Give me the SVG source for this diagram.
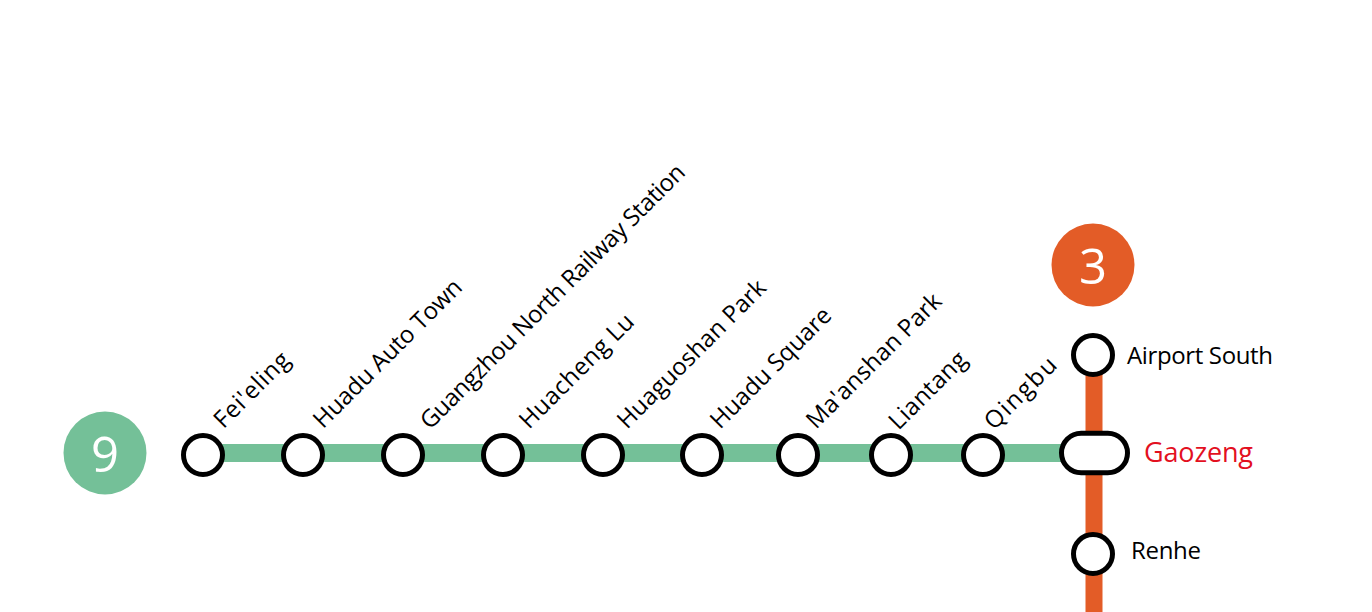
<svg xmlns="http://www.w3.org/2000/svg" width="1372" height="612" viewBox="0 0 1372 612">
<style>
.st{fill:#fff;stroke:#000;stroke-width:5}
.lbl{font-family:"Open Sans","Noto Sans","Liberation Sans",sans-serif;font-size:24px;fill:#000}
.hl{font-family:"Open Sans","Noto Sans","Liberation Sans",sans-serif;font-size:24px;fill:#000}
.badge{font-family:"Open Sans","Noto Sans","Liberation Sans",sans-serif;font-size:49px;fill:#fff;text-anchor:middle}
</style>
<rect width="1372" height="612" fill="#fff"/>
<g id="connectors">
<line x1="203" y1="453" x2="1075" y2="453" stroke="#74c098" stroke-width="18"/>
<line x1="1094" y1="355" x2="1094" y2="612" stroke="#e35c27" stroke-width="17"/>
</g>
<g id="badge9"><circle cx="105" cy="453" r="41.5" fill="#74c098"/><text class="badge" x="105" y="472">9</text></g>
<g id="badge3"><circle cx="1093" cy="265" r="41.5" fill="#e35c27"/><text class="badge" x="1093" y="284">3</text></g>
<g id="feieling"><circle class="st" cx="203" cy="455" r="19.5"/><text class="lbl" x="223.5" y="429.5" transform="rotate(-45 223.5 429.5)" textLength="96">Fei'eling</text></g>
<g id="huadu-auto-town"><circle class="st" cx="303" cy="455" r="19.5"/><text class="lbl" x="323" y="429.5" transform="rotate(-45 323 429.5)" textLength="199">Huadu Auto Town</text></g>
<g id="guangzhou-north"><circle class="st" cx="403" cy="455" r="19.5"/><text class="lbl" x="430" y="430.5" transform="rotate(-45 430 430.5)" textLength="363">Guangzhou North Railway Station</text></g>
<g id="huacheng-lu"><circle class="st" cx="503" cy="455" r="19.5"/><text class="lbl" x="529" y="430" transform="rotate(-45 529 430)" textLength="151">Huacheng Lu</text></g>
<g id="huaguoshan-park"><circle class="st" cx="603" cy="455" r="19.5"/><text class="lbl" x="627" y="430" transform="rotate(-45 627 430)" textLength="199">Huaguoshan Park</text></g>
<g id="huadu-square"><circle class="st" cx="702" cy="455" r="19.5"/><text class="lbl" x="720" y="430" transform="rotate(-45 720 430)" textLength="160">Huadu Square</text></g>
<g id="maanshan-park"><circle class="st" cx="798" cy="455" r="19.5"/><text class="lbl" x="816" y="430" transform="rotate(-45 816 430)" textLength="180">Ma'anshan Park</text></g>
<g id="liantang"><circle class="st" cx="891" cy="455" r="19.5"/><text class="lbl" x="898.5" y="431" transform="rotate(-45 898.5 431)" textLength="99">Liantang</text></g>
<g id="qingbu"><circle class="st" cx="983" cy="455" r="19.5"/><text class="lbl" x="994" y="431" transform="rotate(-45 994 431)" textLength="91">Qingbu</text></g>
<g id="airport-south"><circle class="st" cx="1093" cy="355" r="19.5"/><text class="hl" x="1127" y="364" textLength="146">Airport South</text></g>
<g id="gaozeng"><rect class="st" x="1061.5" y="433.2" width="66" height="39.5" rx="19.75"/><text x="1144" y="462" font-family="'Open Sans','Noto Sans','Liberation Sans',sans-serif" font-size="27" fill="#e3101f" textLength="109">Gaozeng</text></g>
<g id="renhe"><circle class="st" cx="1093" cy="554" r="19.5"/><text class="hl" x="1131" y="559" textLength="70">Renhe</text></g>
</svg>
